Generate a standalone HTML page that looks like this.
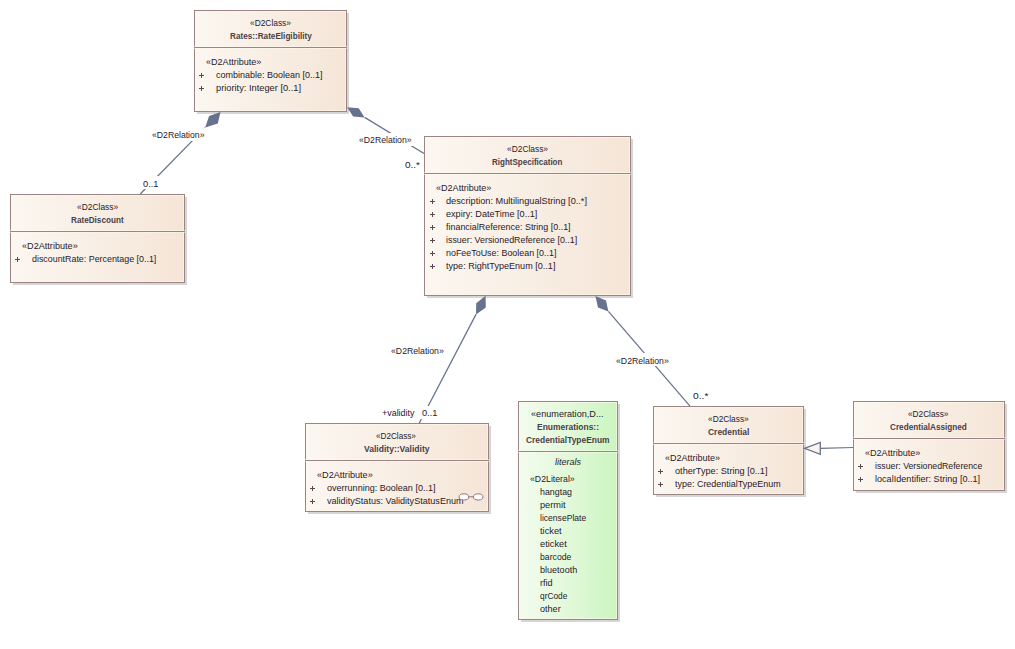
<!DOCTYPE html>
<html><head><meta charset="utf-8"><style>
html,body{margin:0;padding:0;background:#fff;}
body{width:1015px;height:649px;position:relative;overflow:hidden;font-family:"Liberation Sans",sans-serif;}
.b{position:absolute;box-sizing:border-box;border:1px solid #9a8484;}
.c{background:linear-gradient(to right,#fcf7f1 0%,#f8eee4 50%,#f5e5d7 100%);}
.e{background:linear-gradient(to right,#f3fcef 0%,#e2f9da 50%,#cbf5c0 100%);}
.hl{position:absolute;left:0;top:0;right:0;bottom:0;box-shadow:inset 0 0 0 1px rgba(255,246,232,0.7);}
.sh{position:absolute;background:#d5d6d5;}
.dv{position:absolute;height:1px;background:#9a8484;box-shadow:0 1px 0 rgba(255,250,240,0.5),0 -1px 0 rgba(255,250,240,0.5);}
.t{position:absolute;white-space:nowrap;color:#2a2028;font-size:9.0px;line-height:1;transform-origin:0 0;}
.lb{background:#fff;}
.pl{position:absolute;background:#5a4850;}
svg{position:absolute;left:0;top:0;}
</style></head><body>

<div class="sh" style="left:347px;top:13px;width:2px;height:101px"></div>
<div class="sh" style="left:197px;top:112px;width:152px;height:2px"></div>
<div class="sh" style="left:631px;top:139px;width:2px;height:159px"></div>
<div class="sh" style="left:427px;top:296px;width:206px;height:2px"></div>
<div class="sh" style="left:185px;top:197px;width:2px;height:88px"></div>
<div class="sh" style="left:13px;top:283px;width:174px;height:2px"></div>
<div class="sh" style="left:489px;top:426px;width:2px;height:88px"></div>
<div class="sh" style="left:308px;top:512px;width:183px;height:2px"></div>
<div class="sh" style="left:804px;top:409px;width:2px;height:88px"></div>
<div class="sh" style="left:656px;top:495px;width:150px;height:2px"></div>
<div class="sh" style="left:1005px;top:404px;width:2px;height:89px"></div>
<div class="sh" style="left:856px;top:491px;width:151px;height:2px"></div>
<div class="sh" style="left:618px;top:404px;width:2px;height:218px"></div>
<div class="sh" style="left:521px;top:620px;width:99px;height:2px"></div>
<div class="b c" style="left:194px;top:10px;width:153px;height:102px"><div class="hl"></div></div>
<div class="dv" style="left:194px;top:47px;width:153px"></div>
<div class="b c" style="left:424px;top:136px;width:207px;height:160px"><div class="hl"></div></div>
<div class="dv" style="left:424px;top:173px;width:207px"></div>
<div class="b c" style="left:10px;top:194px;width:175px;height:89px"><div class="hl"></div></div>
<div class="dv" style="left:10px;top:231px;width:175px"></div>
<div class="b c" style="left:305px;top:423px;width:184px;height:89px"><div class="hl"></div></div>
<div class="dv" style="left:305px;top:460px;width:184px"></div>
<div class="b c" style="left:653px;top:406px;width:151px;height:89px"><div class="hl"></div></div>
<div class="dv" style="left:653px;top:443px;width:151px"></div>
<div class="b c" style="left:853px;top:401px;width:152px;height:90px"><div class="hl"></div></div>
<div class="dv" style="left:853px;top:438px;width:152px"></div>
<div class="b e" style="left:518px;top:401px;width:100px;height:219px"><div class="hl"></div></div>
<div class="dv" style="left:518px;top:451px;width:100px"></div>
<svg width="1015" height="649" viewBox="0 0 1015 649">
<polygon points="220.5,112.1 209.1,116.1 205.2,127.6 217.8,123.5" fill="#67728e" stroke="none" stroke-width="1"/>
<line x1="205.2" y1="127.6" x2="140.2" y2="194" stroke="#67728e" stroke-width="1.25"/>
<polygon points="347.1,107.2 358.8,108.2 364.6,117.4 353.1,116.5" fill="#67728e" stroke="none" stroke-width="1"/>
<line x1="364.6" y1="117.4" x2="424" y2="153.5" stroke="#67728e" stroke-width="1.25"/>
<polygon points="485.6,295.8 476.2,303.2 476,314.4 485.8,307.4" fill="#67728e" stroke="none" stroke-width="1"/>
<line x1="476" y1="314.4" x2="419.2" y2="423.3" stroke="#67728e" stroke-width="1.25"/>
<polygon points="595.4,296 606,300.4 608.4,311.4 598,307.4" fill="#67728e" stroke="none" stroke-width="1"/>
<line x1="608.4" y1="311.4" x2="690" y2="406.1" stroke="#67728e" stroke-width="1.25"/>
<line x1="820.3" y1="448.3" x2="853" y2="447.5" stroke="#67728e" stroke-width="1.25"/>
<polygon points="804.5,448.3 820.3,442.5 820.3,454.3" fill="#fbf3ee" stroke="#67728e" stroke-width="1.3"/>
</svg>
<div class="t" style="left:249.70px;top:19.38px;font-size:9.0px;transform:scaleX(0.9291);">«D2Class»</div>
<div class="t" style="left:229.60px;top:32.38px;font-size:9.0px;font-weight:700;color:#4a4048;transform:scaleX(0.9076);">Rates::RateEligibility</div>
<div class="t" style="left:206.30px;top:58.38px;font-size:9.0px;transform:scaleX(1.0067);">«D2Attribute»</div>
<div class="pl" style="left:199px;top:75px;width:5px;height:1px"></div><div class="pl" style="left:201px;top:73px;width:1px;height:5px"></div>
<div class="t" style="left:215.70px;top:71.38px;font-size:9.0px;transform:scaleX(0.9993);">combinable: Boolean [0..1]</div>
<div class="pl" style="left:199px;top:88px;width:5px;height:1px"></div><div class="pl" style="left:201px;top:86px;width:1px;height:5px"></div>
<div class="t" style="left:215.70px;top:84.38px;font-size:9.0px;transform:scaleX(1.0298);">priority: Integer [0..1]</div>
<div class="t" style="left:506.70px;top:145.38px;font-size:9.0px;transform:scaleX(0.9314);">«D2Class»</div>
<div class="t" style="left:492.30px;top:158.38px;font-size:9.0px;font-weight:700;color:#4a4048;transform:scaleX(0.8911);">RightSpecification</div>
<div class="t" style="left:436.30px;top:184.38px;font-size:9.0px;transform:scaleX(1.0067);">«D2Attribute»</div>
<div class="pl" style="left:430px;top:201px;width:5px;height:1px"></div><div class="pl" style="left:432px;top:199px;width:1px;height:5px"></div>
<div class="t" style="left:445.90px;top:197.38px;font-size:9.0px;transform:scaleX(1.0212);">description: MultilingualString [0..*]</div>
<div class="pl" style="left:430px;top:214px;width:5px;height:1px"></div><div class="pl" style="left:432px;top:212px;width:1px;height:5px"></div>
<div class="t" style="left:445.90px;top:210.38px;font-size:9.0px;transform:scaleX(1.0122);">expiry: DateTime [0..1]</div>
<div class="pl" style="left:430px;top:227px;width:5px;height:1px"></div><div class="pl" style="left:432px;top:225px;width:1px;height:5px"></div>
<div class="t" style="left:445.90px;top:223.38px;font-size:9.0px;transform:scaleX(0.9923);">financialReference: String [0..1]</div>
<div class="pl" style="left:430px;top:240px;width:5px;height:1px"></div><div class="pl" style="left:432px;top:238px;width:1px;height:5px"></div>
<div class="t" style="left:445.90px;top:236.38px;font-size:9.0px;transform:scaleX(0.9859);">issuer: VersionedReference [0..1]</div>
<div class="pl" style="left:430px;top:253px;width:5px;height:1px"></div><div class="pl" style="left:432px;top:251px;width:1px;height:5px"></div>
<div class="t" style="left:445.90px;top:249.38px;font-size:9.0px;transform:scaleX(0.9895);">noFeeToUse: Boolean [0..1]</div>
<div class="pl" style="left:430px;top:266px;width:5px;height:1px"></div><div class="pl" style="left:432px;top:264px;width:1px;height:5px"></div>
<div class="t" style="left:445.90px;top:262.38px;font-size:9.0px;transform:scaleX(1.0078);">type: RightTypeEnum [0..1]</div>
<div class="t" style="left:76.90px;top:203.38px;font-size:9.0px;transform:scaleX(0.9359);">«D2Class»</div>
<div class="t" style="left:71.10px;top:216.38px;font-size:9.0px;font-weight:700;color:#4a4048;transform:scaleX(0.9068);">RateDiscount</div>
<div class="t" style="left:21.70px;top:242.38px;font-size:9.0px;transform:scaleX(1.0121);">«D2Attribute»</div>
<div class="pl" style="left:15px;top:259px;width:5px;height:1px"></div><div class="pl" style="left:17px;top:257px;width:1px;height:5px"></div>
<div class="t" style="left:32.00px;top:255.38px;font-size:9.0px;transform:scaleX(0.9859);">discountRate: Percentage [0..1]</div>
<div class="t" style="left:376.30px;top:432.38px;font-size:9.0px;transform:scaleX(0.9064);">«D2Class»</div>
<div class="t" style="left:364.20px;top:445.38px;font-size:9.0px;font-weight:700;color:#4a4048;transform:scaleX(0.9490);">Validity::Validity</div>
<div class="t" style="left:317.00px;top:471.38px;font-size:9.0px;transform:scaleX(1.0121);">«D2Attribute»</div>
<div class="pl" style="left:310px;top:488px;width:5px;height:1px"></div><div class="pl" style="left:312px;top:486px;width:1px;height:5px"></div>
<div class="t" style="left:326.70px;top:484.38px;font-size:9.0px;transform:scaleX(1.0039);">overrunning: Boolean [0..1]</div>
<div class="pl" style="left:310px;top:501px;width:5px;height:1px"></div><div class="pl" style="left:312px;top:499px;width:1px;height:5px"></div>
<div class="t" style="left:326.70px;top:497.38px;font-size:9.0px;transform:scaleX(1.0089);">validityStatus: ValidityStatusEnum</div>
<div class="t" style="left:708.00px;top:415.38px;font-size:9.0px;transform:scaleX(0.9246);">«D2Class»</div>
<div class="t" style="left:707.70px;top:428.38px;font-size:9.0px;font-weight:700;color:#4a4048;transform:scaleX(0.9407);">Credential</div>
<div class="t" style="left:665.30px;top:454.38px;font-size:9.0px;transform:scaleX(1.0012);">«D2Attribute»</div>
<div class="pl" style="left:658px;top:471px;width:5px;height:1px"></div><div class="pl" style="left:660px;top:469px;width:1px;height:5px"></div>
<div class="t" style="left:674.70px;top:467.38px;font-size:9.0px;transform:scaleX(1.0159);">otherType: String [0..1]</div>
<div class="pl" style="left:658px;top:484px;width:5px;height:1px"></div><div class="pl" style="left:660px;top:482px;width:1px;height:5px"></div>
<div class="t" style="left:674.70px;top:480.38px;font-size:9.0px;transform:scaleX(0.9957);">type: CredentialTypeEnum</div>
<div class="t" style="left:908.10px;top:410.38px;font-size:9.0px;transform:scaleX(0.9177);">«D2Class»</div>
<div class="t" style="left:889.70px;top:423.38px;font-size:9.0px;font-weight:700;color:#4a4048;transform:scaleX(0.9086);">CredentialAssigned</div>
<div class="t" style="left:865.00px;top:449.38px;font-size:9.0px;transform:scaleX(1.0067);">«D2Attribute»</div>
<div class="pl" style="left:858px;top:466px;width:5px;height:1px"></div><div class="pl" style="left:860px;top:464px;width:1px;height:5px"></div>
<div class="t" style="left:874.90px;top:462.38px;font-size:9.0px;transform:scaleX(0.9705);">issuer: VersionedReference</div>
<div class="pl" style="left:858px;top:479px;width:5px;height:1px"></div><div class="pl" style="left:860px;top:477px;width:1px;height:5px"></div>
<div class="t" style="left:874.90px;top:475.38px;font-size:9.0px;transform:scaleX(1.0101);">localIdentifier: String [0..1]</div>
<div class="t" style="left:531.20px;top:410.38px;font-size:9.0px;transform:scaleX(1.0134);">«enumeration,D...</div>
<div class="t" style="left:536.70px;top:423.38px;font-size:9.0px;font-weight:700;color:#4a4048;transform:scaleX(0.9393);">Enumerations::</div>
<div class="t" style="left:525.70px;top:436.38px;font-size:9.0px;font-weight:700;color:#4a4048;transform:scaleX(0.9345);">CredentialTypeEnum</div>
<div class="t" style="left:554.70px;top:458.38px;font-size:9.0px;font-style:italic;transform:scaleX(0.9997);">literals</div>
<div class="t" style="left:530.00px;top:475.38px;font-size:9.0px;transform:scaleX(0.9711);">«D2Literal»</div>
<div class="t" style="left:539.90px;top:488.38px;font-size:9.0px;transform:scaleX(0.9836);">hangtag</div>
<div class="t" style="left:539.90px;top:501.38px;font-size:9.0px;transform:scaleX(1.0238);">permit</div>
<div class="t" style="left:539.90px;top:514.38px;font-size:9.0px;transform:scaleX(0.9520);">licensePlate</div>
<div class="t" style="left:539.90px;top:527.38px;font-size:9.0px;transform:scaleX(1.0283);">ticket</div>
<div class="t" style="left:539.90px;top:540.38px;font-size:9.0px;transform:scaleX(1.0303);">eticket</div>
<div class="t" style="left:539.90px;top:553.38px;font-size:9.0px;transform:scaleX(0.9654);">barcode</div>
<div class="t" style="left:539.90px;top:566.38px;font-size:9.0px;transform:scaleX(1.0045);">bluetooth</div>
<div class="t" style="left:539.90px;top:579.38px;font-size:9.0px;transform:scaleX(1.0078);">rfid</div>
<div class="t" style="left:539.90px;top:592.38px;font-size:9.0px;transform:scaleX(0.9282);">qrCode</div>
<div class="t" style="left:539.90px;top:605.38px;font-size:9.0px;transform:scaleX(1.0090);">other</div>
<div class="t lb" style="left:149.90px;top:127.88px;padding:3.5px 2.08px 0.5px 2.08px;font-size:9.0px;transform:scaleX(0.9626);">«D2Relation»</div>
<div class="t lb" style="left:140.70px;top:176.18px;padding:3.5px 1.94px 0.5px 1.94px;font-size:9.0px;transform:scaleX(1.0325);">0..1</div>
<div class="t lb" style="left:356.70px;top:132.58px;padding:3.5px 2.07px 0.5px 2.07px;font-size:9.0px;transform:scaleX(0.9645);">«D2Relation»</div>
<div class="t lb" style="left:403.00px;top:157.48px;padding:3.5px 1.80px 0.5px 1.80px;font-size:9.0px;transform:scaleX(1.1103);">0..*</div>
<div class="t lb" style="left:388.90px;top:343.88px;padding:3.5px 2.07px 0.5px 2.07px;font-size:9.0px;transform:scaleX(0.9681);">«D2Relation»</div>
<div class="t lb" style="left:380.20px;top:405.68px;padding:3.5px 2.02px 0.5px 2.02px;font-size:9.0px;transform:scaleX(0.9919);">+validity</div>
<div class="t lb" style="left:419.70px;top:405.68px;padding:3.5px 1.94px 0.5px 1.94px;font-size:9.0px;transform:scaleX(1.0325);">0..1</div>
<div class="t lb" style="left:614.10px;top:353.48px;padding:3.5px 2.07px 0.5px 2.07px;font-size:9.0px;transform:scaleX(0.9681);">«D2Relation»</div>
<div class="t lb" style="left:690.50px;top:388.68px;padding:3.5px 1.75px 0.5px 1.75px;font-size:9.0px;transform:scaleX(1.1399);">0..*</div>
<svg width="1015" height="649" viewBox="0 0 1015 649">
<line x1="468" y1="496.8" x2="474" y2="496.8" stroke="#8c7a7a" stroke-width="1"/>
<ellipse cx="463.9" cy="496.9" rx="4.8" ry="3.1" fill="#fff" stroke="#8c7a7a" stroke-width="1"/>
<ellipse cx="478.2" cy="496.9" rx="4.8" ry="3.1" fill="#fff" stroke="#8c7a7a" stroke-width="1"/>
</svg>
</body></html>
